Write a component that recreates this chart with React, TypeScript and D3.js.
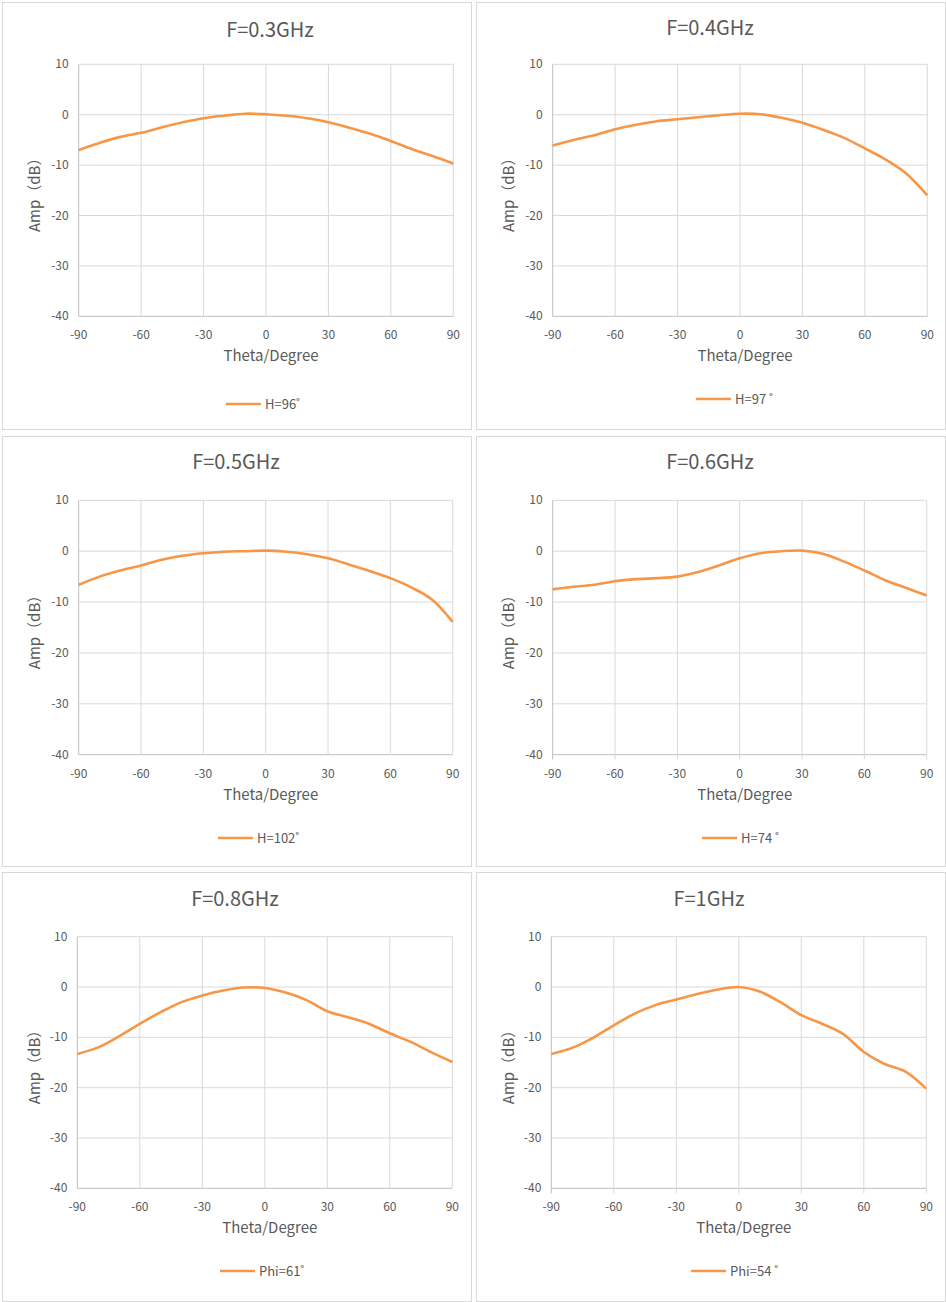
import * as d3 from "d3";

// theta sampling (degrees) shared by all panels
const theta = [-90, -80, -70, -60, -50, -40, -30, -20, -10, 0, 10, 20, 30, 40, 50, 60, 70, 80, 90];

// amplitude (dB)
const ampF03 = [-7.0, -5.6, -4.4, -3.6, -2.5, -1.5, -0.7, -0.2, 0.2, 0.1, -0.2, -0.7, -1.5, -2.6, -3.8, -5.2, -6.8, -8.2, -9.7];
const ampF04 = [-6.1, -5.0, -4.1, -2.9, -2.0, -1.3, -0.9, -0.5, -0.1, 0.2, 0.1, -0.6, -1.6, -3.0, -4.6, -6.7, -8.9, -11.7, -16.0];
const ampF05 = [-6.6, -5.0, -3.8, -2.8, -1.7, -0.9, -0.4, -0.1, 0.0, 0.1, -0.1, -0.6, -1.4, -2.6, -3.9, -5.3, -7.1, -9.5, -13.9];
const ampF06 = [-7.5, -7.0, -6.6, -5.9, -5.5, -5.3, -5.0, -4.1, -2.8, -1.4, -0.4, 0.0, 0.1, -0.5, -2.0, -3.8, -5.7, -7.2, -8.7];
const ampF08 = [-13.3, -12.0, -9.8, -7.3, -5.0, -3.0, -1.7, -0.7, -0.1, -0.2, -1.1, -2.6, -4.8, -6.0, -7.3, -9.2, -10.9, -13.0, -14.9];
const ampF10 = [-13.3, -12.1, -10.1, -7.6, -5.3, -3.6, -2.5, -1.4, -0.5, 0.0, -0.9, -3.0, -5.6, -7.3, -9.3, -12.9, -15.3, -16.8, -20.2];

const titles = ["F=0.3GHz", "F=0.4GHz", "F=0.5GHz", "F=0.6GHz", "F=0.8GHz", "F=1GHz"];
const legends = ["H=96˚", "H=97 ˚", "H=102˚", "H=74 ˚", "Phi=61˚", "Phi=54 ˚"];
const series = [ampF03, ampF04, ampF05, ampF06, ampF08, ampF10];

const xTicks = [-90, -60, -30, 0, 30, 60, 90];
const yTicks = [10, 0, -10, -20, -30, -40];

// panel layout: frame box, plot box, title / legend placement
const panels = [
  { bx: 2, by: 2, bw: 469, bh: 427, px: 78.7, py: 64.3, pw: 374.6, ph: 252, tx: 270, ty: 37, lx: 226, ly: 404, ticks: false },
  { bx: 476, by: 2, bw: 469, bh: 427, px: 552.7, py: 64.3, pw: 374.6, ph: 252, tx: 710, ty: 35, lx: 696, ly: 399, ticks: false },
  { bx: 2, by: 436, bw: 469, bh: 430, px: 78.7, py: 500.3, pw: 374, ph: 254.4, tx: 236, ty: 469, lx: 218, ly: 838, ticks: false },
  { bx: 476, by: 436, bw: 469, bh: 430, px: 552.7, py: 500.3, pw: 374, ph: 254.4, tx: 710, ty: 469, lx: 702, ly: 838, ticks: true },
  { bx: 2, by: 872, bw: 469, bh: 429, px: 77.3, py: 936.7, pw: 375, ph: 251.6, tx: 235, ty: 906, lx: 220, ly: 1271, ticks: false },
  { bx: 476, by: 872, bw: 469, bh: 429, px: 551.3, py: 936.7, pw: 375, ph: 251.6, tx: 709, ty: 906, lx: 691, ly: 1271, ticks: true },
];

const FONT = "'Noto Sans CJK SC', 'Noto Sans', sans-serif";
const TEXT = "#595959";
const GRID = "#d9d9d9";
const AXIS = "#bfbfbf";
const LINE = "#f79646";

function Panel({ i }: { i: number }) {
  const p = panels[i];
  const x = d3.scaleLinear().domain([-90, 90]).range([p.px, p.px + p.pw]);
  const y = d3.scaleLinear().domain([-40, 10]).range([p.py + p.ph, p.py]);
  const data = theta.map((t, k) => ({ t, v: series[i][k] }));
  const line = d3
    .line<{ t: number; v: number }>()
    .x((d) => x(d.t))
    .y((d) => y(d.v))
    .curve(d3.curveCatmullRom.alpha(0.5));

  const bottom = y(-40);
  const midY = p.py + p.ph / 2 + 1;

  return (
    <g>
      <rect x={p.bx + 0.5} y={p.by + 0.5} width={p.bw} height={p.bh} fill="#fff" stroke={GRID} />
      <text x={p.tx} y={p.ty} textAnchor="middle" fontSize={20} fill={TEXT} fontFamily={FONT}>
        {titles[i]}
      </text>

      {/* grid */}
      {yTicks.map((v) => (
        <line key={"h" + v} x1={x(-90)} x2={x(90)} y1={y(v)} y2={y(v)} stroke={v === -40 ? AXIS : GRID} strokeWidth={1} />
      ))}
      {xTicks.map((t) => (
        <line key={"v" + t} x1={x(t)} x2={x(t)} y1={y(10)} y2={bottom + (p.ticks ? 5 : 0)} stroke={t === -90 ? AXIS : GRID} strokeWidth={1} />
      ))}

      {/* tick labels */}
      {yTicks.map((v) => (
        <text key={"yl" + v} x={p.px - 10} y={y(v) + 4} textAnchor="end" fontSize={12} fill={TEXT} fontFamily={FONT}>
          {v}
        </text>
      ))}
      {xTicks.map((t) => (
        <text key={"xl" + t} x={x(t)} y={bottom + 23} textAnchor="middle" fontSize={12} fill={TEXT} fontFamily={FONT}>
          {t}
        </text>
      ))}

      {/* axis titles */}
      <text x={p.px + p.pw / 2 + 5} y={bottom + 45} textAnchor="middle" fontSize={15} fill={TEXT} fontFamily={FONT}>
        Theta/Degree
      </text>
      <text
        transform={`translate(${p.bx + 38},${midY}) rotate(-90)`}
        textAnchor="middle"
        fontSize={15}
        fill={TEXT}
        fontFamily={FONT}
      >
        Amp（dB）
      </text>

      <path d={line(data) || ""} fill="none" stroke={LINE} strokeWidth={2.6} strokeLinejoin="round" />

      {/* legend */}
      <line x1={p.lx} x2={p.lx + 35} y1={p.ly} y2={p.ly} stroke={LINE} strokeWidth={2.6} />
      <text x={p.lx + 39} y={p.ly + 5} fontSize={13} fill={TEXT} fontFamily={FONT}>
        {legends[i]}
      </text>
    </g>
  );
}

export default function App() {
  return (
    <svg
      width={946}
      height={1302}
      style={{ position: "absolute", left: 0, top: 0, background: "#fff" }}
    >
      <rect width={946} height={1302} fill="#fff" />
      {panels.map((_, i) => (
        <Panel key={i} i={i} />
      ))}
    </svg>
  );
}
